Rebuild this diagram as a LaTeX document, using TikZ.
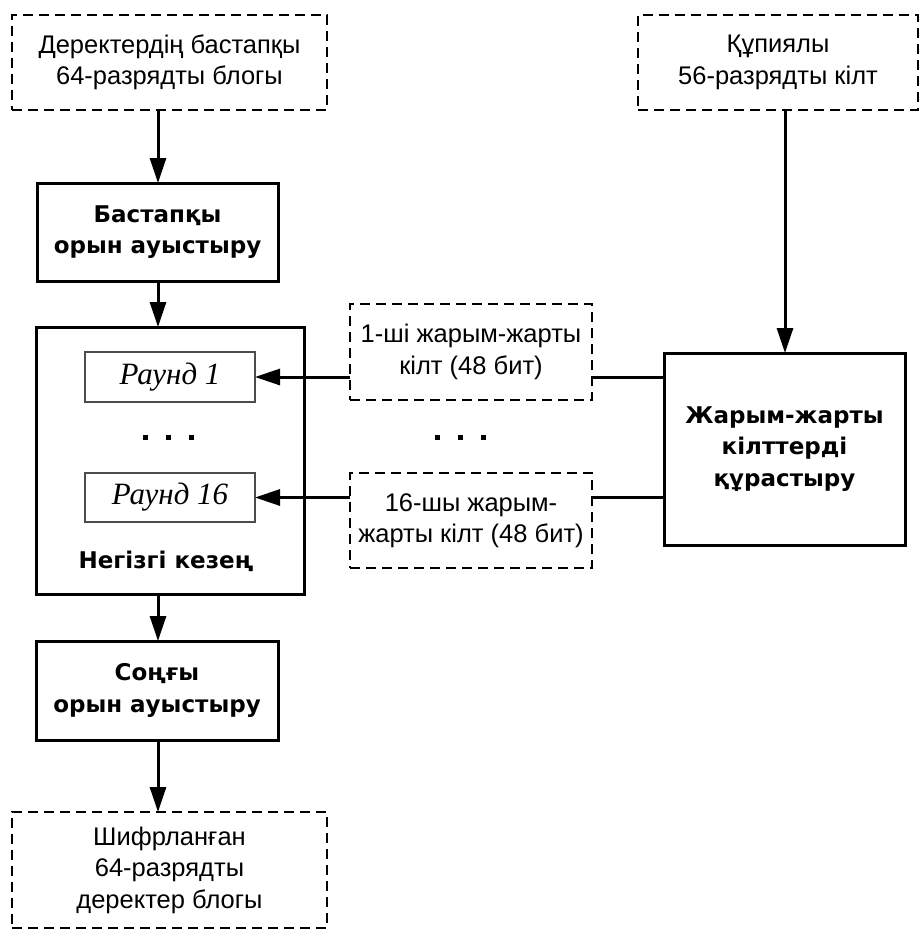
\documentclass[tikz,border=0pt]{standalone}
\usepackage{fontspec}
\setmainfont{Liberation Sans}
\newfontfamily\boldsans{DejaVu Sans}[BoldFont={DejaVu Sans Bold}]
\newfontfamily\roundfont{Liberation Serif}
\usetikzlibrary{arrows.meta}
\begin{document}
\begin{tikzpicture}[x=1pt,y=-1pt,
  every node/.style={inner sep=0pt, outer sep=0pt, align=center},
  plain/.style={font=\fontsize{25.5}{31.5}\selectfont},
  strong/.style={font=\boldsans\bfseries\fontsize{23}{31.5}\selectfont},
  dashbox/.style={draw, line width=2pt, dash pattern=on 10pt off 6pt, plain},
  solidbox/.style={draw, line width=3pt, strong},
  roundbox/.style={draw=black!70, line width=2pt,
    font=\roundfont\itshape\fontsize{31}{34}\selectfont},
  flow/.style={line width=3pt, -{Triangle[length=25pt,width=16pt]}},
  link/.style={line width=3pt},
  dot/.style={fill=black}]
\useasboundingbox (0,0) rectangle (921,930);

% data path on the left
\node[dashbox, minimum width=315pt, minimum height=95pt] (in) at (169.5,62.5)
  {Деректердің бастапқы\\64-разрядты блогы};
\node[solidbox, minimum width=241pt, minimum height=98pt] (ip) at (157.5,232)
  {Бастапқы\\орын ауыстыру};
\node[draw, line width=3pt, minimum width=268pt, minimum height=267pt] (main) at (170,460.5) {};
\node[roundbox, minimum width=170pt, minimum height=50pt] (r1) at (170,377) {Раунд 1};
\node[roundbox, minimum width=170pt, minimum height=49pt] (r16) at (170,497.5) {Раунд 16};
\node[strong] (mainlbl) at (166,561) {Негізгі кезең};
\node[solidbox, minimum width=242pt, minimum height=99pt] (fp) at (157,690.5)
  {Соңғы\\орын ауыстыру};
\node[dashbox, minimum width=315pt, minimum height=116pt] (out) at (169.5,870)
  {Шифрланған\\64-разрядты\\деректер блогы};

% key schedule on the right
\node[dashbox, minimum width=280pt, minimum height=95pt] (key) at (778,62.5)
  {Құпиялы\\56-разрядты кілт};
\node[solidbox, minimum width=241pt, minimum height=192pt] (ks) at (784.5,449)
  {Жарым-жарты\\кілттерді\\құрастыру};
\node[dashbox, minimum width=242pt, minimum height=96pt] (k1) at (471,352)
  {1-ші жарым-жарты\\кілт (48 бит)};
\node[dashbox, minimum width=242pt, minimum height=95pt] (k16) at (471,520.5)
  {16-шы жарым-\\жарты кілт (48 бит)};

% ellipses between the rounds and between the subkeys
\foreach \dx in {145,168,191} \fill[dot] (\dx-2.5,434.5) rectangle ++(5,5);
\foreach \dx in {437,460,483} \fill[dot] (\dx-2.5,434.5) rectangle ++(5,5);

% connectors
\draw[flow] (in.south -| ip.north) ++(0.5,0) coordinate (a0) -- (a0 |- ip.north);
\draw[flow] (a0 |- ip.south) -- (a0 |- main.north);
\draw[flow] (a0 |- main.south) -- (a0 |- fp.north);
\draw[flow] (a0 |- fp.south) -- (a0 |- out.north);
\draw[flow] (key.south) ++(7,0) coordinate (b0) -- (b0 |- ks.north);
\draw[link] (ks.west |- r1.east) -- (k1.east |- r1.east);
\draw[link] (ks.west |- r16.east) -- (k16.east |- r16.east);
\draw[flow] (k1.west |- r1.east) -- (r1.east);
\draw[flow] (k16.west |- r16.east) -- (r16.east);
\end{tikzpicture}
\end{document}
